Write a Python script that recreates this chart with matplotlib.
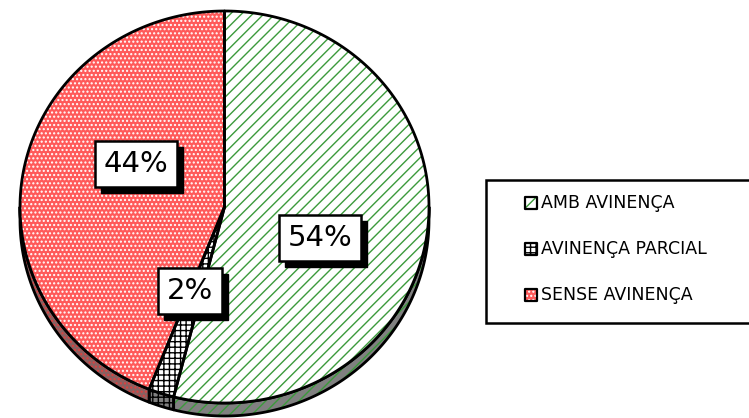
import numpy as np
import matplotlib
matplotlib.use("Agg")
import matplotlib.pyplot as plt
from matplotlib.patches import Polygon, Rectangle

# data
labels = ["AMB AVINENÇA", "AVINENÇA PARCIAL", "SENSE AVINENÇA"]
values = [54, 2, 44]
pct_text = ["54%", "2%", "44%"]

# styles for each slice: face, hatch, hatch colour, side face
faces = ["white", "white", "#ff5a5a"]
hatches = ["///", "+++", "...."]
hatch_cols = ["#3c9a3c", "black", "white"]
side_faces = ["#808080", "#808080", "#8a6060"]
side_hatch_cols = ["#3c9a3c", "black", "#e04040"]

# label centres in pixel coords (chart is drawn in pixel space)
label_pos = [(320, 238), (190, 291), (136, 164)]

plt.rcParams["hatch.linewidth"] = 1.0
plt.rcParams["font.family"] = "DejaVu Sans"

fig = plt.figure(figsize=(7.49, 4.18), dpi=100)
ax = fig.add_axes([0, 0, 1, 1])
ax.set_xlim(0, 749)
ax.set_ylim(418, 0)
ax.axis("off")

cx, cy, rx, ry, depth = 224.5, 207, 204.5, 196, 13


def edge_pts(t0, t1, dy=0, n=200):
    t = np.radians(np.linspace(t0, t1, n))
    return np.column_stack([cx + rx * np.sin(t), cy - ry * np.cos(t) + dy])


def layered(pts, face, hatch, hcol, z, lw=2.0):
    ax.add_patch(Polygon(pts, closed=True, facecolor=face, edgecolor="none", lw=0, zorder=z))
    ax.add_patch(Polygon(pts, closed=True, facecolor="none", edgecolor=hcol, lw=0,
                         hatch=hatch, zorder=z + 0.1))
    ax.add_patch(Polygon(pts, closed=True, facecolor="none", edgecolor="black", lw=lw,
                         joinstyle="round", zorder=z + 0.2))


total = float(sum(values))
bounds = np.concatenate([[0], np.cumsum(values) / total * 360])

# sides (front half only: 90..270 degrees clockwise from top)
for i in range(len(values)):
    a = max(bounds[i], 90)
    b = min(bounds[i + 1], 270)
    if b <= a:
        continue
    top = edge_pts(a, b)
    bot = edge_pts(b, a, dy=depth)
    layered(np.vstack([top, bot]), side_faces[i], hatches[i], side_hatch_cols[i], 1)

# top faces
for i in range(len(values)):
    arc = edge_pts(bounds[i], bounds[i + 1])
    pts = np.vstack([[cx, cy], arc])
    layered(pts, faces[i], hatches[i], hatch_cols[i], 2)

# percentage labels
texts = []
for (x, y), s in zip(label_pos, pct_text):
    t = ax.text(x, y, s, fontsize=21, ha="center", va="center", color="black",
                bbox=dict(boxstyle="square,pad=0.3", facecolor="white", edgecolor="black", lw=1.8),
                zorder=6)
    texts.append(t)

# drop shadows behind the label boxes
fig.canvas.draw()
inv = ax.transData.inverted()
for t in texts:
    bb = t.get_bbox_patch().get_window_extent()
    (x0, y0), (x1, y1) = inv.transform([[bb.x0 + 6, bb.y0 - 6], [bb.x1 + 6, bb.y1 - 6]])
    ax.add_patch(Rectangle((min(x0, x1), min(y0, y1)), abs(x1 - x0), abs(y1 - y0),
                           facecolor="black", edgecolor="black", zorder=5.5))

# legend
ax.add_patch(Rectangle((486, 180), 270, 143, facecolor="white", edgecolor="black", lw=1.8,
                       zorder=3, clip_on=False))
leg_y = [203, 249, 295]
for i, (lab, y) in enumerate(zip(labels, leg_y)):
    sq = [(525, y - 6), (537, y - 6), (537, y + 6), (525, y + 6)]
    layered(sq, faces[i], hatches[i], hatch_cols[i], 4, lw=1.6)
    ax.text(541, y, lab, fontsize=12.5, ha="left", va="center", color="black", zorder=5)

fig.savefig("out.png", dpi=100)
